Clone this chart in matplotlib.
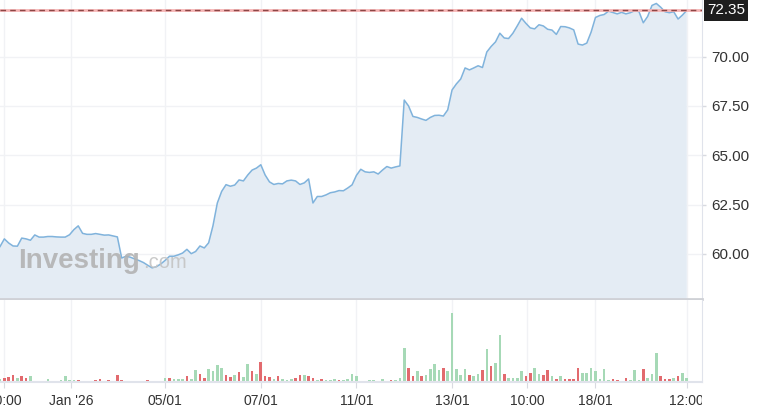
import numpy as np
import matplotlib
matplotlib.use("Agg")
import matplotlib.pyplot as plt
from matplotlib.transforms import Bbox, TransformedBbox, blended_transform_factory

plt.rcParams["font.family"] = ["Liberation Sans", "DejaVu Sans"]

# hourly closes, one per bar
price = [
    60.37, 60.76, 60.55, 60.40, 60.39, 60.80, 60.76, 60.69, 60.96, 60.85,
    60.85, 60.88, 60.88, 60.86, 60.85, 60.85, 60.97, 61.23, 61.42, 61.04,
    60.99, 60.99, 61.03, 60.99, 60.95, 60.96, 60.91, 60.86, 59.79, 59.88,
    59.83, 59.74, 59.66, 59.56, 59.42, 59.29, 59.35, 59.49, 59.67, 59.88,
    59.88, 59.95, 60.04, 60.23, 60.01, 60.12, 60.40, 60.30, 60.56, 61.43,
    62.58, 63.17, 63.51, 63.43, 63.49, 63.75, 63.70, 64.00, 64.25, 64.35,
    64.52, 64.00, 63.65, 63.52, 63.57, 63.55, 63.70, 63.74, 63.70, 63.52,
    63.60, 63.80, 62.58, 62.91, 62.91, 62.99, 63.10, 63.14, 63.21, 63.20,
    63.34, 63.50, 63.98, 64.29, 64.16, 64.13, 64.16, 64.05, 64.25, 64.43,
    64.35, 64.41, 64.46, 67.80, 67.50, 66.97, 66.92, 66.84, 66.77, 66.92,
    67.02, 67.03, 66.99, 67.30, 68.31, 68.62, 68.87, 69.43, 69.33, 69.43,
    69.54, 69.45, 70.24, 70.52, 70.75, 71.19, 70.95, 70.92, 71.19, 71.56,
    71.95, 71.69, 71.46, 71.41, 71.62, 71.56, 71.39, 71.35, 71.13, 71.53,
    71.52, 71.46, 71.36, 70.64, 70.59, 70.69, 71.25, 71.99, 72.09, 72.14,
    72.31, 72.24, 72.17, 72.25, 72.17, 72.23, 72.33, 72.29, 71.72, 72.04,
    72.60, 72.70, 72.51, 72.28, 72.23, 72.28, 71.91, 72.11, 72.35,
]

volume = [
    2.7, 3.3, 4.3, 6.7, 3.3, 5.3, 4.0, 5.3, 1.0, 0.7,
    0.7, 2.7, 1.0, 0.7, 2.0, 5.3, 1.3, 2.0, 1.7, 1.0,
    0.7, 0.5, 2.0, 2.7, 0.7, 1.7, 1.0, 6.7, 1.7, 0.7,
    0.3, 1.0, 1.0, 1.0, 1.7, 1.0, 0.7, 0.7, 4.0, 3.3,
    3.0, 3.0, 3.0, 5.7, 3.0, 11.7, 7.7, 4.0, 12.7, 10.7,
    16.3, 14.0, 6.7, 4.3, 6.7, 9.7, 4.3, 18.0, 10.7, 8.0,
    19.3, 5.5, 5.0, 3.0, 5.2, 2.7, 1.7, 3.0, 4.0, 6.7,
    6.7, 5.3, 3.3, 1.2, 2.8, 1.7, 1.7, 2.7, 1.8, 1.7,
    3.0, 7.7, 5.3, 1.0, 0.8, 1.7, 1.7, 1.0, 3.0, 1.0,
    1.7, 1.7, 3.7, 34.0, 14.0, 5.3, 10.7, 5.3, 6.7, 12.7,
    17.7, 11.7, 14.0, 10.7, 69.0, 12.7, 6.7, 12.7, 6.7, 5.3,
    7.7, 11.7, 32.7, 15.3, 19.0, 46.7, 7.7, 4.0, 4.0, 4.0,
    10.3, 5.3, 9.0, 13.7, 7.7, 6.7, 11.7, 5.3, 3.0, 5.3,
    3.0, 3.0, 3.0, 14.0, 9.0, 9.0, 13.7, 10.7, 2.7, 12.7,
    1.7, 2.3, 1.7, 0.7, 4.0, 1.7, 11.7, 1.7, 12.7, 4.0,
    7.7, 29.0, 5.3, 3.0, 3.0, 3.7, 5.3, 9.0, 4.0,
]

# 1 = up bar (green), 0 = down bar (red)
vol_up = [
    1, 0, 0, 0, 1, 0, 0, 1, 0, 1,
    1, 1, 0, 1, 1, 1, 1, 1, 0, 0,
    1, 1, 0, 0, 1, 0, 0, 0, 0, 1,
    1, 0, 0, 0, 0, 0, 1, 1, 1, 0,
    1, 1, 1, 0, 1, 1, 0, 0, 1, 1,
    1, 1, 0, 0, 1, 0, 1, 1, 0, 1,
    0, 0, 0, 1, 0, 1, 1, 1, 0, 0,
    1, 0, 0, 1, 0, 1, 1, 1, 0, 1,
    1, 1, 1, 0, 0, 1, 1, 0, 1, 0,
    0, 1, 1, 1, 0, 0, 1, 0, 1, 1,
    1, 1, 0, 1, 1, 1, 1, 1, 0, 1,
    1, 0, 1, 0, 1, 1, 0, 1, 1, 1,
    1, 0, 0, 1, 1, 0, 0, 1, 0, 1,
    0, 0, 0, 0, 1, 1, 1, 1, 1, 1,
    1, 0, 0, 1, 0, 1, 1, 1, 0, 1,
    1, 1, 0, 0, 0, 1, 0, 1, 1,
]

tick_pos = [1, 16.4, 38, 60, 82, 104, 121.3, 137, 158]
tick_labels = ["10:00", "Jan '26", "05/01", "07/01", "11/01", "13/01", "10:00", "18/01", "12:00"]
price_ticks = [60.0, 62.5, 65.0, 67.5, 70.0]
last_price = 72.35

LINE = "#80b3dc"
FILL = "#e4ecf4"
GREEN = "#a6d9b6"
RED = "#e26a6e"
GRID = "#f1f2f5"
TXT = "#333333"

x = np.arange(len(price))
xlim = (0, 161.5)

fig = plt.figure(figsize=(7.81, 4.13), dpi=100)
ax = fig.add_axes([0, 0.276, 0.8988, 0.724])
axv = fig.add_axes([0, 0.0758, 0.8988, 0.198], sharex=ax)

# price panel
ax.set_axisbelow(True)
ax.fill_between(x, price, 50, color=FILL, lw=0)
ax.plot(x, price, color=LINE, lw=1.1)
ax.axhline(last_price, color="#f6b4b4", lw=2.0, zorder=3)
ax.axhline(last_price, color="#8c4646", lw=1.0, ls=(0, (4, 3)), zorder=4)
ax.set_xlim(*xlim)
ax.set_ylim(57.71, 72.875)
ax.set_yticks(price_ticks)
ax.set_yticklabels([f"{v:.2f}" for v in price_ticks])
ax.yaxis.tick_right()
ax.tick_params(axis="y", length=3, width=1, color="#d8dae0", pad=4,
               labelsize=11, labelcolor=TXT)
ax.tick_params(axis="x", length=0, labelbottom=False)
ax.set_xticks(tick_pos)
ax.grid(True, color=GRID, lw=1)
for s in ["top", "left"]:
    ax.spines[s].set_visible(False)
ax.spines["right"].set_color("#e0e3eb")
ax.spines["bottom"].set_color("#cfd1d6")
ax.spines["bottom"].set_linewidth(2)

tr = blended_transform_factory(ax.transAxes, ax.transData)
ax.annotate(f"{last_price:.2f}", xy=(1, last_price), xycoords=tr,
            xytext=(5, 0), textcoords="offset pixels", ha="left", va="center",
            fontsize=11, color="white", annotation_clip=False,
            bbox=dict(boxstyle="square,pad=0.22", fc="#1e1e1e", ec="none"))

# watermark
ax.text(0.026, 0.104, "Investing", transform=ax.transAxes, fontsize=20,
        fontweight="bold", color="#b3b3b3", alpha=0.9, zorder=5)
ax.text(0.204, 0.104, ".com", transform=ax.transAxes, fontsize=14.5,
        color="#c4c4c4", alpha=0.9, zorder=5)

# volume panel
axv.set_axisbelow(True)
colors = [GREEN if u else RED for u in vol_up]
axv.bar(x, volume, width=0.6, color=colors, lw=0)
axv.set_ylim(0, 81.7)
axv.set_yticks([])
axv.set_xticks(tick_pos)
axv.set_xticklabels(tick_labels)
axv.tick_params(axis="x", length=4, color="#d8dae0", pad=5,
                labelsize=10, labelcolor=TXT)
axv.grid(True, axis="x", color=GRID, lw=1)
for s in ["top", "left"]:
    axv.spines[s].set_visible(False)
axv.spines["right"].set_color("#e0e3eb")
axv.spines["bottom"].set_color("#e0e3eb")
axv.spines["bottom"].set_linewidth(1.5)

clip = TransformedBbox(Bbox([[0, 0], [0.8988, 1]]), fig.transFigure)
for lbl in axv.get_xticklabels():
    lbl.set_clip_on(True)
    lbl.set_clip_box(clip)

fig.savefig("out.png", dpi=100)
